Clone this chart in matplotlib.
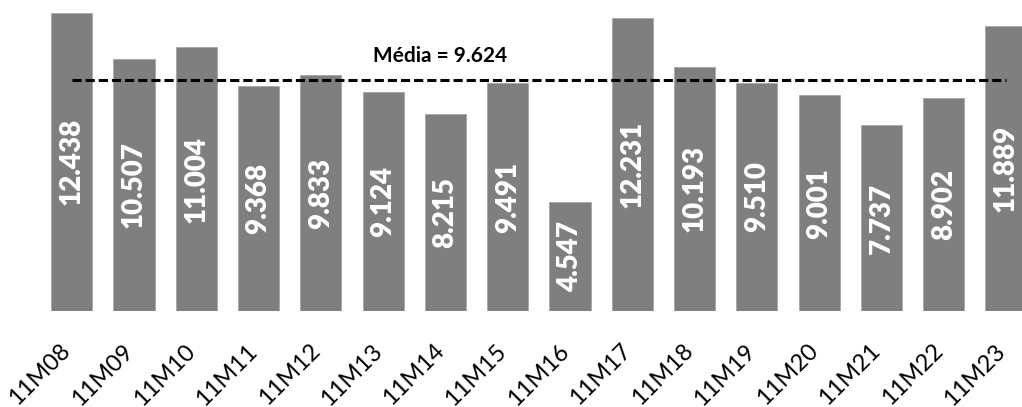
import matplotlib
matplotlib.use("Agg")
import matplotlib.pyplot as plt
import matplotlib.transforms as mtransforms
import numpy as np

meses = ['11M08', '11M09', '11M10', '11M11', '11M12', '11M13', '11M14', '11M15',
         '11M16', '11M17', '11M18', '11M19', '11M20', '11M21', '11M22', '11M23']
valores = [12.438, 10.507, 11.004, 9.368, 9.833, 9.124, 8.215, 9.491,
           4.547, 12.231, 10.193, 9.510, 9.001, 7.737, 8.902, 11.889]
media = 9.624

plt.rcParams['font.family'] = ['Lato', 'DejaVu Sans']

fig = plt.figure(figsize=(10.22, 4.07), dpi=100)
ax = fig.add_axes([0, 0.2359, 1, 0.7641])

x = np.arange(len(meses))
ax.bar(x, valores, width=0.66, color='#7f7f7f', edgecolor='#a0a0a0', linewidth=0.5)

# rotulos dentro das barras
for xi, v in zip(x, valores):
    ax.text(xi, v / 2, '%.3f' % v, rotation=90, ha='center', va='center',
            color='white', fontsize=20, fontweight='heavy')

# linha da media
ax.plot([x[0], x[-1]], [media, media], color='black', lw=2.2,
        dashes=(3, 1.3), dash_capstyle='butt')
ax.text(5.91, 10.4, 'Média = %.3f' % media, ha='center', va='baseline',
        fontsize=15, fontweight='bold')

ax.set_xlim(-1.151, 15.257)
ax.set_ylim(0, 12.97)
ax.set_xticks(x)
ax.set_xticklabels(meses, rotation=45, ha='right', rotation_mode='anchor', fontsize=17)
ax.tick_params(axis='x', length=0, pad=21)
shift = mtransforms.ScaledTranslation(-12 / 100, 0, fig.dpi_scale_trans)
for lbl in ax.get_xticklabels():
    lbl.set_transform(lbl.get_transform() + shift)
ax.set_yticks([])
for s in ax.spines.values():
    s.set_visible(False)

fig.savefig('out.png', dpi=100)
